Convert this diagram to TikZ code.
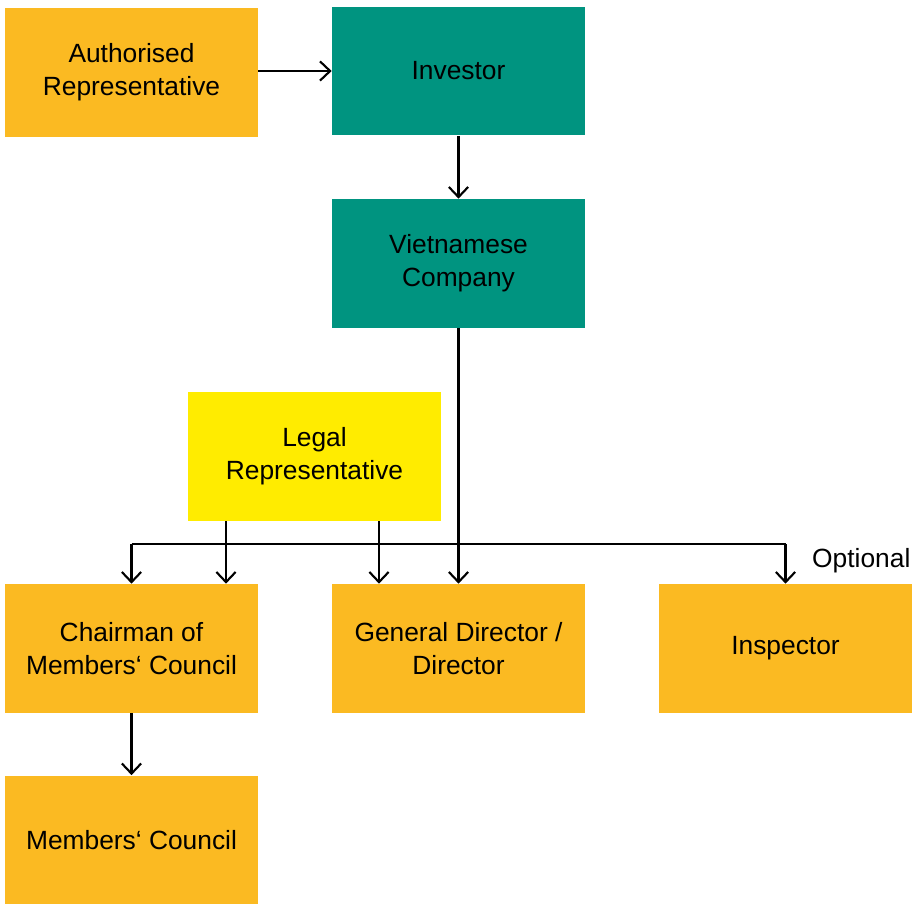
\documentclass[tikz,border=0pt]{standalone}
\usepackage{tikz}
\usepackage{xcolor}
\usepackage{fontspec}
\setmainfont{Liberation Sans}
\usetikzlibrary{arrows.meta,calc}

\definecolor{boxorange}{HTML}{FBBA22}
\definecolor{boxteal}{HTML}{009480}
\definecolor{boxyellow}{HTML}{FFEC00}

\tikzset{
  orgbox/.style={minimum width=5.06cm, minimum height=2.58cm, inner sep=0pt,
    align=center, font=\fontsize{15}{18.7}\selectfont},
  link/.style={line width=1.2pt, -{Straight Barb[length=5.8pt,width=11pt,line width=1.2pt]}}
}

\begin{document}
\begin{tikzpicture}[x=0.02cm, y=-0.02cm]
  % fix the page to the reference size
  \useasboundingbox (0,0) rectangle (919,903);

  % boxes
  \node[orgbox, fill=boxorange] (authrep) at (131.5,72.5) {Authorised\\Representative};
  \node[orgbox, fill=boxteal] (investor) at (458.5,71) {Investor};
  \node[orgbox, fill=boxteal] (vncompany) at (458.5,263.5) {Vietnamese\\Company};
  \node[orgbox, fill=boxyellow] (legalrep) at (314.5,456.5) {Legal\\Representative};
  \node[orgbox, fill=boxorange] (chairman) at (131.5,648.5) {Chairman of\\Members‘ Council};
  \node[orgbox, fill=boxorange] (gendir) at (458.5,648.5) {General Director /\\Director};
  \node[orgbox, fill=boxorange] (inspector) at (785.5,648.5) {Inspector};
  \node[orgbox, fill=boxorange] (council) at (131.5,840) {Members‘ Council};

  % connectors
  \draw[link] (authrep.east |- investor) -- (investor.west);
  \draw[link] (investor.south) -- (vncompany.north);
  \draw[link] (vncompany.south) -- (gendir.north);
  \draw[link] (chairman.south) -- (council.north);

  % bus line to chairman and inspector
  \coordinate (bus) at (0,544);
  \draw[line width=1.2pt] (chairman.north |- bus) -- (inspector.north |- bus);
  \draw[link] (chairman.north |- bus) -- (chairman.north);
  \draw[link] (inspector.north |- bus) -- (inspector.north);

  % legal representative links
  \coordinate (legalleft) at ($(legalrep.south)+(-88.5,0)$);
  \coordinate (legalright) at ($(legalrep.south)+(64.5,0)$);
  \draw[link] (legalleft) -- (legalleft |- chairman.north);
  \draw[link] (legalright) -- (legalright |- gendir.north);

  \node[anchor=base west, font=\fontsize{15}{18.7}\selectfont] (optional) at (806,567) {Optional};
\end{tikzpicture}
\end{document}
